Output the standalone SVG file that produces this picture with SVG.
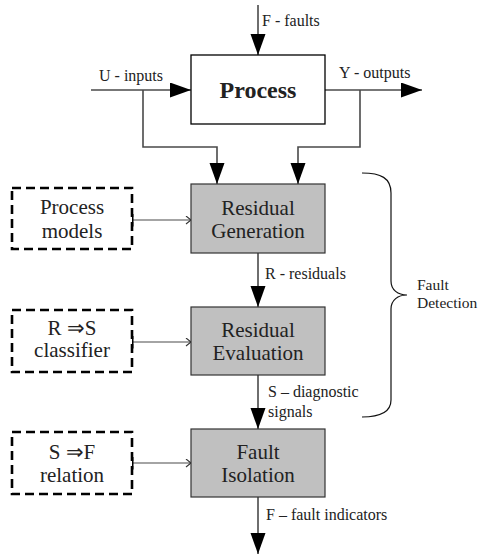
<svg xmlns="http://www.w3.org/2000/svg" width="479" height="554" viewBox="0 0 479 554">
  <style>
    text { font-family: "Liberation Serif", serif; fill: #222; }
    .lbl { font-size: 16px; }
    .brace-lbl { font-size: 15.5px; }
    .box-text { font-size: 21px; text-anchor: middle; }
    .stage { fill: #c0c0c0; stroke: #333; stroke-width: 1.2; }
    .model { fill: #fff; stroke: #000; stroke-width: 2.6; stroke-dasharray: 9 5; }
    .flow { fill: none; stroke: #4a4a4a; stroke-width: 1.6; }
    .feed { fill: none; stroke: #4a4a4a; stroke-width: 1.2; }
  </style>
  <defs>
    <marker id="head" markerUnits="userSpaceOnUse" markerWidth="22" markerHeight="16" refX="21" refY="7.5" orient="auto">
      <path d="M0,0 L21,7.5 L0,15 z" fill="#000"/>
    </marker>
    <marker id="open" markerUnits="userSpaceOnUse" markerWidth="8" markerHeight="10" refX="6" refY="4.5" orient="auto">
      <path d="M1,0.5 L6,4.5 L1,8.5" fill="none" stroke="#333" stroke-width="1.1"/>
    </marker>
    <marker id="tick" markerUnits="userSpaceOnUse" markerWidth="4" markerHeight="14" refX="1.5" refY="6.5" orient="auto">
      <rect x="0" y="0" width="3" height="13" fill="#000"/>
    </marker>
  </defs>

  <!-- signal and data flow -->
  <g id="connectors">
    <path class="flow" d="M258,5 V55" marker-end="url(#head)"/>
    <path class="flow" d="M91,90 H191" marker-end="url(#head)"/>
    <path class="flow" d="M325,90 H422" marker-end="url(#head)"/>
    <path class="flow" d="M143,90 V147 H217 V184" marker-end="url(#head)"/>
    <path class="flow" d="M360,90 V147 H298 V184" marker-end="url(#head)"/>
    <path class="flow" d="M258,253 V307" marker-end="url(#head)"/>
    <path class="flow" d="M258,375 V429" marker-end="url(#head)"/>
    <path class="flow" d="M258,497 V554" marker-end="url(#head)"/>
    <path class="feed" d="M132,220 H191" marker-start="url(#tick)" marker-end="url(#open)"/>
    <path class="feed" d="M132,342 H191" marker-start="url(#tick)" marker-end="url(#open)"/>
    <path class="feed" d="M132,463 H191" marker-start="url(#tick)" marker-end="url(#open)"/>
  </g>

  <!-- flow labels -->
  <g id="labels">
    <text class="lbl" font-family="Liberation Serif" x="262" y="26">F - faults</text>
    <text class="lbl" font-family="Liberation Serif" x="99" y="81">U - inputs</text>
    <text class="lbl" font-family="Liberation Serif" x="339" y="78">Y - outputs</text>
    <text class="lbl" font-family="Liberation Serif" x="265" y="279">R - residuals</text>
    <text class="lbl" font-family="Liberation Serif" x="268" y="397">S – diagnostic</text>
    <text class="lbl" font-family="Liberation Serif" x="268" y="417">signals</text>
    <text class="lbl" font-family="Liberation Serif" x="266" y="520">F – fault indicators</text>
  </g>

  <g id="process">
    <rect x="191" y="55" width="134" height="69" fill="#fff" stroke="#000" stroke-width="1.3"/>
    <text x="258" y="98" font-family="Liberation Serif" font-size="24" font-weight="bold" text-anchor="middle" fill="#111">Process</text>
  </g>

  <g id="residual-generation">
    <rect class="stage" x="191" y="184" width="134" height="69"/>
    <text class="box-text" font-family="Liberation Serif" x="258" y="215">Residual</text>
    <text class="box-text" font-family="Liberation Serif" x="258" y="238">Generation</text>
  </g>

  <g id="residual-evaluation">
    <rect class="stage" x="191" y="307" width="134" height="68"/>
    <text class="box-text" font-family="Liberation Serif" x="258" y="337">Residual</text>
    <text class="box-text" font-family="Liberation Serif" x="258" y="360">Evaluation</text>
  </g>

  <g id="fault-isolation">
    <rect class="stage" x="191" y="429" width="134" height="68"/>
    <text class="box-text" font-family="Liberation Serif" x="258" y="459">Fault</text>
    <text class="box-text" font-family="Liberation Serif" x="258" y="482">Isolation</text>
  </g>

  <g id="process-models">
    <rect class="model" x="12" y="188" width="120" height="61"/>
    <text class="box-text" font-family="Liberation Serif" x="72" y="214">Process</text>
    <text class="box-text" font-family="Liberation Serif" x="72" y="238">models</text>
  </g>

  <g id="classifier">
    <rect class="model" x="12" y="310" width="120" height="62"/>
    <text class="box-text" x="72" y="335">R ⇒S</text>
    <text class="box-text" font-family="Liberation Serif" x="72" y="357">classifier</text>
  </g>

  <g id="relation">
    <rect class="model" x="12" y="432" width="120" height="62"/>
    <text class="box-text" x="72" y="459">S ⇒F</text>
    <text class="box-text" font-family="Liberation Serif" x="72" y="482">relation</text>
  </g>

  <g id="fault-detection">
    <path d="M362,173 C381,173 391,178 391,193 V281 C391,290 398,295 407,295 C398,295 391,300 391,309 V400 C391,412 381,417 362,417" fill="none" stroke="#111" stroke-width="1.2"/>
    <text class="brace-lbl" font-family="Liberation Serif" x="417" y="290">Fault</text>
    <text class="brace-lbl" font-family="Liberation Serif" x="417" y="308">Detection</text>
  </g>
</svg>
